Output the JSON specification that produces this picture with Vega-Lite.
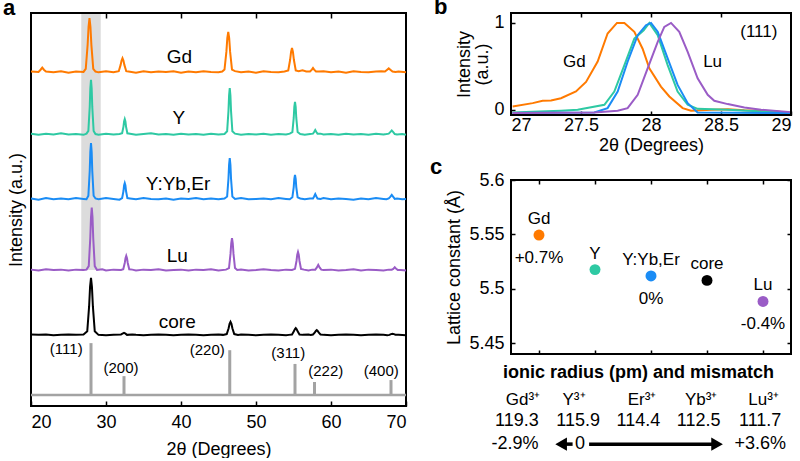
{
"$schema": "https://vega.github.io/schema/vega-lite/v6.json",
"background": "white",
"padding": {"left": 3, "top": -4, "right": 5, "bottom": 0},
"config": {
 "font": "Liberation Sans",
 "view": {"stroke": null},
 "axis": {"zindex": 1, "grid": false, "domain": false, "labelColor": "black", "titleColor": "black", "tickColor": "black", "labelFontSize": 18, "titleFontSize": 18, "titleFontWeight": "normal", "tickWidth": 1.5, "labelFont": "Liberation Sans", "titleFont": "Liberation Sans"},
 "title": {"fontSize": 22, "fontWeight": "bold", "anchor": "start", "frame": "bounds", "color": "black", "font": "Liberation Sans"},
 "text": {"font": "Liberation Sans", "fontSize": 18, "color": "black"}
},
"bounds": "flush",
"spacing": 105,
"hconcat": [
{
 "width": 375, "height": 393,
 "title": {"text": "a", "offset": -8, "dx": -4},
 "resolve": {"axis": {"x": "independent", "y": "independent"}},
 "layer": [
  {"data": {"values": [{"x": 26.7, "x2": 29.3, "y": 34.6, "y2": 100}]},
   "mark": {"type": "rect", "color": "#dcdcdc"},
   "encoding": {
    "x": {"field": "x", "type": "quantitative", "scale": {"domain": [20, 70]}, "axis": {"orient": "top", "labels": false, "title": null, "values": [30, 40, 50, 60], "tickSize": 5, "offset": -5}},
    "x2": {"field": "x2"},
    "y": {"field": "y", "type": "quantitative", "scale": {"domain": [0, 100]}, "axis": {"orient": "left", "labels": false, "ticks": false, "title": "Intensity (a.u.)", "titlePadding": 6}},
    "y2": {"field": "y2"}}},
  {"data": {"values": [{"x": 20, "x2": 70, "y": 0, "y2": 100}]},
   "mark": {"type": "rect", "fill": null, "fillOpacity": 0, "stroke": "black", "strokeWidth": 2},
   "encoding": {"x": {"field": "x", "type": "quantitative", "axis": null}, "x2": {"field": "x2"}, "y": {"field": "y", "type": "quantitative", "axis": null}, "y2": {"field": "y2"}}},
  {"data": {"values": [{"x": 20, "x2": 70, "y": 2.8}]},
   "mark": {"type": "rule", "color": "#a3a3a3", "strokeWidth": 2.5},
   "encoding": {"x": {"field": "x", "type": "quantitative", "axis": null}, "x2": {"field": "x2"}, "y": {"field": "y", "type": "quantitative", "axis": null}}},
  {"data": {"values": [{"x": 28.0, "y": 2.8, "y2": 16.0}, {"x": 32.4, "y": 2.8, "y2": 7.6}, {"x": 46.5, "y": 2.8, "y2": 14.2}, {"x": 55.2, "y": 2.8, "y2": 10.7}, {"x": 57.8, "y": 2.8, "y2": 6.1}, {"x": 68.0, "y": 2.8, "y2": 6.6}]},
   "mark": {"type": "rule", "color": "#a3a3a3", "strokeWidth": 3},
   "encoding": {"x": {"field": "x", "type": "quantitative", "axis": null}, "y": {"field": "y", "type": "quantitative", "axis": null}, "y2": {"field": "y2"}}},
  {"data": {"values": [
{"s":"Gd","x":20,"y":85.1},{"s":"Gd","x":21.0,"y":85.0},{"s":"Gd","x":21.25,"y":85.5},{"s":"Gd","x":21.5,"y":86.1},{"s":"Gd","x":21.75,"y":85.5},{"s":"Gd","x":22.0,"y":85.1},{"s":"Gd","x":23,"y":84.9},{"s":"Gd","x":24,"y":85.2},{"s":"Gd","x":25,"y":84.8},{"s":"Gd","x":26,"y":85.1},{"s":"Gd","x":27,"y":85.0},
{"s":"Gd","x":27.3,"y":85.8},{"s":"Gd","x":27.55,"y":91.9},{"s":"Gd","x":27.675,"y":96.5},{"s":"Gd","x":27.8,"y":98.7},{"s":"Gd","x":27.925,"y":96.5},{"s":"Gd","x":28.05,"y":91.9},{"s":"Gd","x":28.3,"y":85.8},
{"s":"Gd","x":28.6,"y":85.1},{"s":"Gd","x":29,"y":84.9},{"s":"Gd","x":30,"y":85.2},{"s":"Gd","x":31,"y":84.9},
{"s":"Gd","x":31.7,"y":85.2},{"s":"Gd","x":31.95,"y":86.8},{"s":"Gd","x":32.075,"y":87.9},{"s":"Gd","x":32.2,"y":88.5},{"s":"Gd","x":32.325,"y":87.9},{"s":"Gd","x":32.45,"y":86.8},{"s":"Gd","x":32.7,"y":85.2},
{"s":"Gd","x":33,"y":85.1},{"s":"Gd","x":34,"y":84.8},{"s":"Gd","x":35,"y":85.2},{"s":"Gd","x":36,"y":84.9},{"s":"Gd","x":37,"y":85.1},{"s":"Gd","x":38,"y":85.0},{"s":"Gd","x":39,"y":85.2},{"s":"Gd","x":40,"y":84.8},{"s":"Gd","x":41,"y":85.1},{"s":"Gd","x":42,"y":84.9},{"s":"Gd","x":43,"y":85.2},{"s":"Gd","x":44,"y":85.0},{"s":"Gd","x":45,"y":84.9},{"s":"Gd","x":45.5,"y":85.1},
{"s":"Gd","x":45.8,"y":85.6},{"s":"Gd","x":46.05,"y":90.1},{"s":"Gd","x":46.175,"y":93.6},{"s":"Gd","x":46.3,"y":95.2},{"s":"Gd","x":46.425,"y":93.6},{"s":"Gd","x":46.55,"y":90.1},{"s":"Gd","x":46.8,"y":85.6},
{"s":"Gd","x":47.2,"y":85.2},{"s":"Gd","x":48,"y":84.9},{"s":"Gd","x":49,"y":85.1},{"s":"Gd","x":50,"y":84.8},{"s":"Gd","x":51,"y":85.2},{"s":"Gd","x":52,"y":85.0},{"s":"Gd","x":53,"y":84.9},{"s":"Gd","x":53.8,"y":85.1},
{"s":"Gd","x":54.3,"y":85.4},{"s":"Gd","x":54.55,"y":88.1},{"s":"Gd","x":54.675,"y":90.1},{"s":"Gd","x":54.8,"y":91.1},{"s":"Gd","x":54.925,"y":90.1},{"s":"Gd","x":55.05,"y":88.1},{"s":"Gd","x":55.3,"y":85.4},
{"s":"Gd","x":55.7,"y":85.2},{"s":"Gd","x":56.2,"y":85.4},{"s":"Gd","x":56.7,"y":85.1},
{"s":"Gd","x":57.2,"y":85.1},{"s":"Gd","x":57.45,"y":85.6},{"s":"Gd","x":57.6,"y":86.0},{"s":"Gd","x":57.75,"y":85.6},{"s":"Gd","x":58.0,"y":85.1},
{"s":"Gd","x":58.4,"y":85.1},{"s":"Gd","x":59,"y":85.2},{"s":"Gd","x":60,"y":84.9},{"s":"Gd","x":61,"y":85.1},{"s":"Gd","x":62,"y":84.8},{"s":"Gd","x":63,"y":85.2},{"s":"Gd","x":64,"y":85.0},{"s":"Gd","x":65,"y":84.9},{"s":"Gd","x":66,"y":85.1},{"s":"Gd","x":66.7,"y":85.2},
{"s":"Gd","x":67.2,"y":85.1},{"s":"Gd","x":67.45,"y":85.5},{"s":"Gd","x":67.7,"y":85.9},{"s":"Gd","x":67.95,"y":85.5},{"s":"Gd","x":68.2,"y":85.1},
{"s":"Gd","x":68.6,"y":85.0},{"s":"Gd","x":69,"y":85.1},{"s":"Gd","x":70,"y":84.9},

{"s":"Y","x":20,"y":69.3},{"s":"Y","x":21,"y":69.0},{"s":"Y","x":22,"y":69.3},{"s":"Y","x":23,"y":69.1},{"s":"Y","x":24,"y":69.4},{"s":"Y","x":25,"y":69.1},{"s":"Y","x":26,"y":69.2},{"s":"Y","x":27,"y":69.0},{"s":"Y","x":27.4,"y":69.3},
{"s":"Y","x":27.65,"y":70.0},{"s":"Y","x":27.83,"y":76.1},{"s":"Y","x":27.91,"y":80.8},{"s":"Y","x":28.0,"y":83.0},{"s":"Y","x":28.09,"y":80.8},{"s":"Y","x":28.17,"y":76.1},{"s":"Y","x":28.35,"y":70.0},
{"s":"Y","x":28.6,"y":69.2},{"s":"Y","x":29,"y":69.0},{"s":"Y","x":30,"y":69.3},{"s":"Y","x":31,"y":69.1},{"s":"Y","x":31.8,"y":69.2},
{"s":"Y","x":32.15,"y":69.4},{"s":"Y","x":32.33,"y":71.1},{"s":"Y","x":32.41,"y":72.4},{"s":"Y","x":32.5,"y":73.0},{"s":"Y","x":32.59,"y":72.4},{"s":"Y","x":32.67,"y":71.1},{"s":"Y","x":32.85,"y":69.4},
{"s":"Y","x":33.2,"y":69.3},{"s":"Y","x":34,"y":69.0},{"s":"Y","x":35,"y":69.2},{"s":"Y","x":36,"y":69.4},{"s":"Y","x":37,"y":69.1},{"s":"Y","x":38,"y":69.2},{"s":"Y","x":39,"y":69.0},{"s":"Y","x":40,"y":69.3},{"s":"Y","x":41,"y":69.1},{"s":"Y","x":42,"y":69.2},{"s":"Y","x":43,"y":69.0},{"s":"Y","x":44,"y":69.3},{"s":"Y","x":45,"y":69.1},{"s":"Y","x":45.8,"y":69.2},
{"s":"Y","x":46.15,"y":69.9},{"s":"Y","x":46.33,"y":75.1},{"s":"Y","x":46.41,"y":79.0},{"s":"Y","x":46.5,"y":80.9},{"s":"Y","x":46.59,"y":79.0},{"s":"Y","x":46.67,"y":75.1},{"s":"Y","x":46.85,"y":69.9},
{"s":"Y","x":47.2,"y":69.3},{"s":"Y","x":48,"y":69.0},{"s":"Y","x":49,"y":69.2},{"s":"Y","x":50,"y":69.1},{"s":"Y","x":51,"y":69.3},{"s":"Y","x":52,"y":69.0},{"s":"Y","x":53,"y":69.2},{"s":"Y","x":54,"y":69.1},{"s":"Y","x":54.5,"y":69.3},
{"s":"Y","x":54.85,"y":69.7},{"s":"Y","x":55.03,"y":73.3},{"s":"Y","x":55.11,"y":76.1},{"s":"Y","x":55.2,"y":77.4},{"s":"Y","x":55.29,"y":76.1},{"s":"Y","x":55.37,"y":73.3},{"s":"Y","x":55.55,"y":69.7},
{"s":"Y","x":55.9,"y":69.2},{"s":"Y","x":56.5,"y":69.0},{"s":"Y","x":57.2,"y":69.2},
{"s":"Y","x":57.6,"y":69.3},{"s":"Y","x":57.75,"y":69.7},{"s":"Y","x":57.9,"y":70.2},{"s":"Y","x":58.05,"y":69.7},{"s":"Y","x":58.2,"y":69.3},
{"s":"Y","x":58.6,"y":69.3},{"s":"Y","x":59,"y":69.1},{"s":"Y","x":60,"y":69.2},{"s":"Y","x":61,"y":69.0},{"s":"Y","x":62,"y":69.3},{"s":"Y","x":63,"y":69.1},{"s":"Y","x":64,"y":69.2},{"s":"Y","x":65,"y":69.0},{"s":"Y","x":66,"y":69.3},{"s":"Y","x":67,"y":69.1},{"s":"Y","x":67.4,"y":69.2},
{"s":"Y","x":67.7,"y":69.3},{"s":"Y","x":67.9,"y":69.7},{"s":"Y","x":68.1,"y":70.1},{"s":"Y","x":68.3,"y":69.7},{"s":"Y","x":68.5,"y":69.2},
{"s":"Y","x":68.8,"y":69.1},{"s":"Y","x":69.5,"y":69.2},{"s":"Y","x":70,"y":69.0},

{"s":"Y:Yb,Er","x":20,"y":52.8},{"s":"Y:Yb,Er","x":21,"y":52.5},{"s":"Y:Yb,Er","x":22,"y":52.9},{"s":"Y:Yb,Er","x":23,"y":52.6},{"s":"Y:Yb,Er","x":24,"y":52.8},{"s":"Y:Yb,Er","x":25,"y":52.6},{"s":"Y:Yb,Er","x":26,"y":52.9},{"s":"Y:Yb,Er","x":27,"y":52.7},{"s":"Y:Yb,Er","x":27.4,"y":52.6},
{"s":"Y:Yb,Er","x":27.65,"y":53.5},{"s":"Y:Yb,Er","x":27.83,"y":59.8},{"s":"Y:Yb,Er","x":27.91,"y":64.6},{"s":"Y:Yb,Er","x":28.0,"y":66.9},{"s":"Y:Yb,Er","x":28.09,"y":64.6},{"s":"Y:Yb,Er","x":28.17,"y":59.8},{"s":"Y:Yb,Er","x":28.35,"y":53.5},
{"s":"Y:Yb,Er","x":28.6,"y":52.8},{"s":"Y:Yb,Er","x":29,"y":52.6},{"s":"Y:Yb,Er","x":30,"y":52.9},{"s":"Y:Yb,Er","x":31,"y":52.7},{"s":"Y:Yb,Er","x":31.8,"y":52.5},
{"s":"Y:Yb,Er","x":32.15,"y":52.9},{"s":"Y:Yb,Er","x":32.33,"y":54.7},{"s":"Y:Yb,Er","x":32.41,"y":56.1},{"s":"Y:Yb,Er","x":32.5,"y":56.7},{"s":"Y:Yb,Er","x":32.59,"y":56.1},{"s":"Y:Yb,Er","x":32.67,"y":54.7},{"s":"Y:Yb,Er","x":32.85,"y":52.9},
{"s":"Y:Yb,Er","x":33.2,"y":52.8},{"s":"Y:Yb,Er","x":34,"y":52.6},{"s":"Y:Yb,Er","x":35,"y":52.9},{"s":"Y:Yb,Er","x":36,"y":52.7},{"s":"Y:Yb,Er","x":37,"y":52.6},{"s":"Y:Yb,Er","x":38,"y":52.8},{"s":"Y:Yb,Er","x":39,"y":52.5},{"s":"Y:Yb,Er","x":40,"y":52.8},{"s":"Y:Yb,Er","x":41,"y":52.7},{"s":"Y:Yb,Er","x":42,"y":52.9},{"s":"Y:Yb,Er","x":43,"y":52.6},{"s":"Y:Yb,Er","x":44,"y":52.8},{"s":"Y:Yb,Er","x":45,"y":52.6},{"s":"Y:Yb,Er","x":45.8,"y":52.8},
{"s":"Y:Yb,Er","x":46.15,"y":53.3},{"s":"Y:Yb,Er","x":46.33,"y":57.9},{"s":"Y:Yb,Er","x":46.41,"y":61.4},{"s":"Y:Yb,Er","x":46.5,"y":63.1},{"s":"Y:Yb,Er","x":46.59,"y":61.4},{"s":"Y:Yb,Er","x":46.67,"y":57.9},{"s":"Y:Yb,Er","x":46.85,"y":53.3},
{"s":"Y:Yb,Er","x":47.2,"y":52.7},{"s":"Y:Yb,Er","x":48,"y":52.9},{"s":"Y:Yb,Er","x":49,"y":52.6},{"s":"Y:Yb,Er","x":50,"y":52.7},{"s":"Y:Yb,Er","x":51,"y":52.8},{"s":"Y:Yb,Er","x":52,"y":52.6},{"s":"Y:Yb,Er","x":53,"y":52.9},{"s":"Y:Yb,Er","x":54,"y":52.7},{"s":"Y:Yb,Er","x":54.5,"y":52.6},
{"s":"Y:Yb,Er","x":54.85,"y":53.1},{"s":"Y:Yb,Er","x":55.03,"y":55.7},{"s":"Y:Yb,Er","x":55.11,"y":57.8},{"s":"Y:Yb,Er","x":55.2,"y":58.8},{"s":"Y:Yb,Er","x":55.29,"y":57.8},{"s":"Y:Yb,Er","x":55.37,"y":55.7},{"s":"Y:Yb,Er","x":55.55,"y":53.1},
{"s":"Y:Yb,Er","x":55.9,"y":52.8},{"s":"Y:Yb,Er","x":56.5,"y":52.6},{"s":"Y:Yb,Er","x":57.2,"y":52.8},
{"s":"Y:Yb,Er","x":57.6,"y":52.8},{"s":"Y:Yb,Er","x":57.75,"y":53.3},{"s":"Y:Yb,Er","x":57.9,"y":53.9},{"s":"Y:Yb,Er","x":58.05,"y":53.3},{"s":"Y:Yb,Er","x":58.2,"y":52.8},
{"s":"Y:Yb,Er","x":58.6,"y":52.7},{"s":"Y:Yb,Er","x":59,"y":52.9},{"s":"Y:Yb,Er","x":60,"y":52.6},{"s":"Y:Yb,Er","x":61,"y":52.8},{"s":"Y:Yb,Er","x":62,"y":52.7},{"s":"Y:Yb,Er","x":63,"y":52.5},{"s":"Y:Yb,Er","x":64,"y":52.8},{"s":"Y:Yb,Er","x":65,"y":52.6},{"s":"Y:Yb,Er","x":66,"y":52.9},{"s":"Y:Yb,Er","x":67,"y":52.7},{"s":"Y:Yb,Er","x":67.4,"y":52.6},
{"s":"Y:Yb,Er","x":67.7,"y":52.8},{"s":"Y:Yb,Er","x":67.9,"y":53.2},{"s":"Y:Yb,Er","x":68.1,"y":53.7},{"s":"Y:Yb,Er","x":68.3,"y":53.2},{"s":"Y:Yb,Er","x":68.5,"y":52.7},
{"s":"Y:Yb,Er","x":68.8,"y":52.8},{"s":"Y:Yb,Er","x":69.5,"y":52.6},{"s":"Y:Yb,Er","x":70,"y":52.7},

{"s":"Lu","x":20,"y":34.7},{"s":"Lu","x":21,"y":34.5},{"s":"Lu","x":22,"y":34.8},{"s":"Lu","x":23,"y":34.6},{"s":"Lu","x":24,"y":34.7},{"s":"Lu","x":25,"y":34.5},{"s":"Lu","x":26,"y":34.7},{"s":"Lu","x":27,"y":34.6},{"s":"Lu","x":27.4,"y":34.7},
{"s":"Lu","x":27.7,"y":35.6},{"s":"Lu","x":27.9,"y":42.6},{"s":"Lu","x":28.0,"y":48.0},{"s":"Lu","x":28.1,"y":50.5},{"s":"Lu","x":28.2,"y":48.0},{"s":"Lu","x":28.3,"y":42.6},{"s":"Lu","x":28.5,"y":35.6},
{"s":"Lu","x":28.8,"y":34.6},{"s":"Lu","x":29.5,"y":34.8},{"s":"Lu","x":30,"y":34.5},{"s":"Lu","x":31,"y":34.7},{"s":"Lu","x":32,"y":34.6},
{"s":"Lu","x":32.3,"y":34.8},{"s":"Lu","x":32.5,"y":36.4},{"s":"Lu","x":32.6,"y":37.6},{"s":"Lu","x":32.7,"y":38.2},{"s":"Lu","x":32.8,"y":37.6},{"s":"Lu","x":32.9,"y":36.4},{"s":"Lu","x":33.1,"y":34.8},
{"s":"Lu","x":33.5,"y":34.7},{"s":"Lu","x":34,"y":34.5},{"s":"Lu","x":35,"y":34.7},{"s":"Lu","x":36,"y":34.6},{"s":"Lu","x":37,"y":34.8},{"s":"Lu","x":38,"y":34.5},{"s":"Lu","x":39,"y":34.6},{"s":"Lu","x":40,"y":34.7},{"s":"Lu","x":41,"y":34.5},{"s":"Lu","x":42,"y":34.7},{"s":"Lu","x":43,"y":34.6},{"s":"Lu","x":44,"y":34.8},{"s":"Lu","x":45,"y":34.5},{"s":"Lu","x":46,"y":34.7},
{"s":"Lu","x":46.4,"y":35.1},{"s":"Lu","x":46.6,"y":38.7},{"s":"Lu","x":46.7,"y":41.4},{"s":"Lu","x":46.8,"y":42.7},{"s":"Lu","x":46.9,"y":41.4},{"s":"Lu","x":47.0,"y":38.7},{"s":"Lu","x":47.2,"y":35.1},
{"s":"Lu","x":47.5,"y":34.6},{"s":"Lu","x":48,"y":34.7},{"s":"Lu","x":49,"y":34.5},{"s":"Lu","x":50,"y":34.6},{"s":"Lu","x":51,"y":34.8},{"s":"Lu","x":52,"y":34.6},{"s":"Lu","x":53,"y":34.5},{"s":"Lu","x":54,"y":34.7},{"s":"Lu","x":54.8,"y":34.6},
{"s":"Lu","x":55.2,"y":34.9},{"s":"Lu","x":55.4,"y":36.9},{"s":"Lu","x":55.5,"y":38.5},{"s":"Lu","x":55.6,"y":39.2},{"s":"Lu","x":55.7,"y":38.5},{"s":"Lu","x":55.8,"y":36.9},{"s":"Lu","x":56.0,"y":34.9},
{"s":"Lu","x":56.4,"y":34.7},{"s":"Lu","x":57,"y":34.5},{"s":"Lu","x":57.5,"y":34.7},
{"s":"Lu","x":57.9,"y":34.7},{"s":"Lu","x":58.1,"y":35.2},{"s":"Lu","x":58.3,"y":35.9},{"s":"Lu","x":58.5,"y":35.2},{"s":"Lu","x":58.7,"y":34.7},
{"s":"Lu","x":59,"y":34.6},{"s":"Lu","x":60,"y":34.7},{"s":"Lu","x":61,"y":34.5},{"s":"Lu","x":62,"y":34.6},{"s":"Lu","x":63,"y":34.8},{"s":"Lu","x":64,"y":34.5},{"s":"Lu","x":65,"y":34.7},{"s":"Lu","x":66,"y":34.6},{"s":"Lu","x":67,"y":34.5},{"s":"Lu","x":67.7,"y":34.7},
{"s":"Lu","x":68.1,"y":34.7},{"s":"Lu","x":68.3,"y":34.9},{"s":"Lu","x":68.5,"y":35.3},{"s":"Lu","x":68.7,"y":34.9},{"s":"Lu","x":68.9,"y":34.6},
{"s":"Lu","x":69.3,"y":34.6},{"s":"Lu","x":70,"y":34.5},

{"s":"core","x":20,"y":18.2},{"s":"core","x":21,"y":18.1},{"s":"core","x":22,"y":18.2},{"s":"core","x":23,"y":18.0},{"s":"core","x":24,"y":18.1},{"s":"core","x":25,"y":18.2},{"s":"core","x":26,"y":18.1},{"s":"core","x":27,"y":18.2},
{"s":"core","x":27.5,"y":19.0},{"s":"core","x":27.75,"y":25.4},{"s":"core","x":27.875,"y":30.3},{"s":"core","x":28.0,"y":32.6},{"s":"core","x":28.125,"y":30.3},{"s":"core","x":28.25,"y":25.4},{"s":"core","x":28.5,"y":19.0},
{"s":"core","x":29,"y":18.1},{"s":"core","x":30,"y":18.0},{"s":"core","x":31,"y":18.1},
{"s":"core","x":32.0,"y":18.2},{"s":"core","x":32.2,"y":18.4},{"s":"core","x":32.4,"y":18.6},{"s":"core","x":32.6,"y":18.4},{"s":"core","x":32.8,"y":18.1},
{"s":"core","x":33.5,"y":18.2},{"s":"core","x":34,"y":18.1},{"s":"core","x":35,"y":18.0},{"s":"core","x":36,"y":18.1},{"s":"core","x":37,"y":18.2},{"s":"core","x":38,"y":18.1},{"s":"core","x":39,"y":18.0},{"s":"core","x":40,"y":18.1},{"s":"core","x":41,"y":18.2},{"s":"core","x":42,"y":18.1},{"s":"core","x":43,"y":18.0},{"s":"core","x":44,"y":18.1},{"s":"core","x":45,"y":18.2},{"s":"core","x":45.6,"y":18.1},
{"s":"core","x":46.1,"y":18.3},{"s":"core","x":46.35,"y":19.8},{"s":"core","x":46.475,"y":20.9},{"s":"core","x":46.6,"y":21.4},{"s":"core","x":46.725,"y":20.9},{"s":"core","x":46.85,"y":19.8},{"s":"core","x":47.1,"y":18.3},
{"s":"core","x":47.6,"y":18.1},{"s":"core","x":48,"y":18.2},{"s":"core","x":49,"y":18.1},{"s":"core","x":50,"y":18.0},{"s":"core","x":51,"y":18.1},{"s":"core","x":52,"y":18.2},{"s":"core","x":53,"y":18.1},{"s":"core","x":54,"y":18.0},{"s":"core","x":54.4,"y":18.1},
{"s":"core","x":54.8,"y":18.2},{"s":"core","x":55.05,"y":19.0},{"s":"core","x":55.175,"y":19.5},{"s":"core","x":55.3,"y":19.8},{"s":"core","x":55.425,"y":19.5},{"s":"core","x":55.55,"y":19.0},{"s":"core","x":55.8,"y":18.2},
{"s":"core","x":56.2,"y":18.1},{"s":"core","x":57,"y":18.2},{"s":"core","x":57.3,"y":18.1},
{"s":"core","x":57.6,"y":18.2},{"s":"core","x":57.85,"y":18.7},{"s":"core","x":57.975,"y":19.1},{"s":"core","x":58.1,"y":19.3},{"s":"core","x":58.225,"y":19.1},{"s":"core","x":58.35,"y":18.7},{"s":"core","x":58.6,"y":18.2},
{"s":"core","x":59,"y":18.1},{"s":"core","x":60,"y":18.0},{"s":"core","x":61,"y":18.1},{"s":"core","x":62,"y":18.2},{"s":"core","x":63,"y":18.1},{"s":"core","x":64,"y":18.0},{"s":"core","x":65,"y":18.1},{"s":"core","x":66,"y":18.2},{"s":"core","x":67,"y":18.1},{"s":"core","x":67.5,"y":18.0},
{"s":"core","x":67.8,"y":18.1},{"s":"core","x":68.0,"y":18.3},{"s":"core","x":68.2,"y":18.4},{"s":"core","x":68.4,"y":18.3},{"s":"core","x":68.6,"y":18.1},
{"s":"core","x":69,"y":18.1},{"s":"core","x":70,"y":18.0}
   ]},
   "mark": {"type": "line", "strokeWidth": 2},
   "encoding": {
    "x": {"field": "x", "type": "quantitative", "axis": {"orient": "bottom", "values": [20, 30, 40, 50, 60, 70], "title": "2θ (Degrees)", "tickSize": 5, "offset": -5, "labelPadding": 7, "titlePadding": 9}},
    "y": {"field": "y", "type": "quantitative", "axis": null},
    "color": {"field": "s", "type": "nominal", "scale": {"domain": ["Gd", "Y", "Y:Yb,Er", "Lu", "core"], "range": ["#ff7a00", "#2ec9a3", "#1a8cf5", "#9a5cc6", "#000000"]}, "legend": null}}},
  {"data": {"values": [{"x": 39.8, "y": 88.8, "t": "Gd"}, {"x": 39.7, "y": 73.3, "t": "Y"}, {"x": 39.6, "y": 56.5, "t": "Y:Yb,Er"}, {"x": 39.5, "y": 38.2, "t": "Lu"}, {"x": 39.5, "y": 21.4, "t": "core"}]},
   "mark": {"type": "text", "fontSize": 19},
   "encoding": {"x": {"field": "x", "type": "quantitative", "axis": null}, "y": {"field": "y", "type": "quantitative", "axis": null}, "text": {"field": "t"}}},
  {"data": {"values": [{"x": 24.7, "y": 14.5, "t": "(111)"}, {"x": 32.0, "y": 9.7, "t": "(200)"}, {"x": 43.5, "y": 14.2, "t": "(220)"}, {"x": 54.3, "y": 13.5, "t": "(311)"}, {"x": 59.3, "y": 8.9, "t": "(222)"}, {"x": 66.7, "y": 8.9, "t": "(400)"}]},
   "mark": {"type": "text", "fontSize": 15},
   "encoding": {"x": {"field": "x", "type": "quantitative", "axis": null}, "y": {"field": "y", "type": "quantitative", "axis": null}, "text": {"field": "t"}}}
 ]
},
{
 "bounds": "flush",
 "spacing": 65,
 "vconcat": [
  {
   "width": 280, "height": 102,
   "title": {"text": "b", "offset": -7, "dx": -22},
   "resolve": {"axis": {"x": "independent", "y": "independent"}},
   "layer": [
    {"data": {"values": [
{"s":"Gd","x":27.012,"y":0.038},{"s":"Gd","x":27.155,"y":0.076},{"s":"Gd","x":27.226,"y":0.103},{"s":"Gd","x":27.286,"y":0.106},{"s":"Gd","x":27.357,"y":0.133},{"s":"Gd","x":27.464,"y":0.21},{"s":"Gd","x":27.536,"y":0.32},{"s":"Gd","x":27.619,"y":0.553},{"s":"Gd","x":27.69,"y":0.875},{"s":"Gd","x":27.757,"y":0.996},{"s":"Gd","x":27.81,"y":0.996},{"s":"Gd","x":27.881,"y":0.894},{"s":"Gd","x":27.94,"y":0.70},{"s":"Gd","x":27.988,"y":0.475},{"s":"Gd","x":28.071,"y":0.266},{"s":"Gd","x":28.131,"y":0.152},{"s":"Gd","x":28.226,"y":0.019},{"s":"Gd","x":28.286,"y":-0.011},{"s":"Gd","x":28.43,"y":0.0},{"s":"Gd","x":28.55,"y":0.005},{"s":"Gd","x":28.667,"y":-0.005},{"s":"Gd","x":28.8,"y":-0.011},{"s":"Gd","x":28.9,"y":-0.02},{"s":"Gd","x":29.0,"y":-0.038},
{"s":"Y","x":27.012,"y":-0.03},{"s":"Y","x":27.2,"y":-0.02},{"s":"Y","x":27.357,"y":-0.011},{"s":"Y","x":27.476,"y":0.0},{"s":"Y","x":27.667,"y":0.057},{"s":"Y","x":27.738,"y":0.209},{"s":"Y","x":27.81,"y":0.513},{"s":"Y","x":27.881,"y":0.817},{"s":"Y","x":27.948,"y":0.912},{"s":"Y","x":27.988,"y":0.996},{"s":"Y","x":28.048,"y":0.856},{"s":"Y","x":28.119,"y":0.513},{"s":"Y","x":28.19,"y":0.209},{"s":"Y","x":28.262,"y":0.057},{"s":"Y","x":28.333,"y":0.011},{"s":"Y","x":28.548,"y":0.0},{"s":"Y","x":28.8,"y":-0.02},{"s":"Y","x":29.0,"y":-0.038},
{"s":"Y:Yb,Er","x":27.012,"y":-0.038},{"s":"Y:Yb,Er","x":27.3,"y":-0.035},{"s":"Y:Yb,Er","x":27.595,"y":-0.03},{"s":"Y:Yb,Er","x":27.69,"y":0.019},{"s":"Y:Yb,Er","x":27.762,"y":0.209},{"s":"Y:Yb,Er","x":27.833,"y":0.551},{"s":"Y:Yb,Er","x":27.905,"y":0.856},{"s":"Y:Yb,Er","x":27.964,"y":0.97},{"s":"Y:Yb,Er","x":28.0,"y":0.996},{"s":"Y:Yb,Er","x":28.048,"y":0.894},{"s":"Y:Yb,Er","x":28.119,"y":0.589},{"s":"Y:Yb,Er","x":28.19,"y":0.285},{"s":"Y:Yb,Er","x":28.262,"y":0.076},{"s":"Y:Yb,Er","x":28.333,"y":-0.03},{"s":"Y:Yb,Er","x":28.6,"y":-0.035},{"s":"Y:Yb,Er","x":29.0,"y":-0.038},
{"s":"Lu","x":27.012,"y":-0.038},{"s":"Lu","x":27.3,"y":-0.035},{"s":"Lu","x":27.595,"y":-0.03},{"s":"Lu","x":27.762,"y":-0.011},{"s":"Lu","x":27.833,"y":0.019},{"s":"Lu","x":27.905,"y":0.171},{"s":"Lu","x":27.976,"y":0.475},{"s":"Lu","x":28.048,"y":0.779},{"s":"Lu","x":28.095,"y":0.951},{"s":"Lu","x":28.143,"y":0.996},{"s":"Lu","x":28.202,"y":0.894},{"s":"Lu","x":28.262,"y":0.665},{"s":"Lu","x":28.333,"y":0.361},{"s":"Lu","x":28.405,"y":0.171},{"s":"Lu","x":28.452,"y":0.103},{"s":"Lu","x":28.548,"y":0.065},{"s":"Lu","x":28.667,"y":0.027},{"s":"Lu","x":28.786,"y":0.0},{"s":"Lu","x":29.0,"y":-0.027}
     ]},
     "mark": {"type": "line", "strokeWidth": 2},
     "encoding": {
      "x": {"field": "x", "type": "quantitative", "scale": {"domain": [27, 29]}, "axis": {"orient": "bottom", "values": [27, 27.5, 28, 28.5, 29], "format": "~g", "title": "2θ (Degrees)", "tickSize": 4, "offset": -4, "labelPadding": 1, "titlePadding": 2}},
      "y": {"field": "y", "type": "quantitative", "scale": {"domain": [-0.06, 1.11], "nice": false, "zero": false}, "axis": {"orient": "left", "values": [0, 1], "format": "~g", "title": ["Intensity", "(a.u.)"], "tickSize": 4, "offset": -4, "labelPadding": 7, "titlePadding": 2, "titleLineHeight": 18}},
      "color": {"field": "s", "type": "nominal", "scale": {"domain": ["Gd", "Y", "Y:Yb,Er", "Lu", "core"], "range": ["#ff7a00", "#2ec9a3", "#1a8cf5", "#9a5cc6", "#000000"]}, "legend": null}}},
    {"data": {"values": [{"x": 27, "x2": 29, "y": -0.06, "y2": 1.11}]},
     "mark": {"type": "rect", "fill": null, "fillOpacity": 0, "stroke": "black", "strokeWidth": 2},
     "encoding": {"x": {"field": "x", "type": "quantitative", "scale": {"domain": [27, 29]}, "axis": null}, "x2": {"field": "x2"}, "y": {"field": "y", "type": "quantitative", "scale": {"domain": [-0.06, 1.11], "nice": false, "zero": false}, "axis": null}, "y2": {"field": "y2"}}},
    {"data": {"values": [{"x": 27.452, "y": 0.55, "t": "Gd"}, {"x": 28.44, "y": 0.55, "t": "Lu"}, {"x": 28.77, "y": 0.89, "t": "(111)"}]},
     "mark": {"type": "text", "fontSize": 17},
     "encoding": {
      "x": {"field": "x", "type": "quantitative", "scale": {"domain": [27, 29]}, "axis": {"orient": "top", "values": [27.5, 28, 28.5], "labels": false, "title": null, "tickSize": 4, "offset": -4}},
      "y": {"field": "y", "type": "quantitative", "scale": {"domain": [-0.06, 1.11], "nice": false, "zero": false}, "axis": null},
      "text": {"field": "t"}}}
   ]
  },
  {
   "bounds": "flush",
   "spacing": 8,
   "vconcat": [
    {
     "width": 280, "height": 174,
     "title": {"text": "c", "offset": -8, "dx": -16},
     "resolve": {"axis": {"x": "independent", "y": "independent"}},
     "layer": [
      {"data": {"values": [{"s": "Gd", "v": 5.5494}, {"s": "Y", "v": 5.5176}, {"s": "Y:Yb,Er", "v": 5.5118}, {"s": "core", "v": 5.5077}, {"s": "Lu", "v": 5.4883}]},
       "mark": {"type": "circle", "size": 120, "opacity": 1},
       "encoding": {
        "x": {"field": "s", "type": "nominal", "sort": ["Gd", "Y", "Y:Yb,Er", "core", "Lu"], "scale": {"type": "point", "padding": 0.5}, "axis": {"orient": "bottom", "labels": false, "title": null, "tickSize": 4, "offset": -4}},
        "y": {"field": "v", "type": "quantitative", "scale": {"domain": [5.44, 5.6], "nice": false, "zero": false}, "axis": {"orient": "left", "values": [5.45, 5.5, 5.55, 5.6], "format": "~g", "title": "Lattice constant (Å)", "tickSize": 4, "offset": -4, "labelPadding": 7, "titlePadding": 5}},
        "color": {"field": "s", "type": "nominal", "scale": {"domain": ["Gd", "Y", "Y:Yb,Er", "Lu", "core"], "range": ["#ff7a00", "#2ec9a3", "#1a8cf5", "#9a5cc6", "#000000"]}, "legend": null}}},
      {"data": {"values": [{"y": 5.44, "y2": 5.6}]},
       "mark": {"type": "rect", "fill": null, "fillOpacity": 0, "stroke": "black", "strokeWidth": 2},
       "encoding": {"y": {"field": "y", "type": "quantitative", "scale": {"domain": [5.44, 5.6], "nice": false, "zero": false}, "axis": {"orient": "right", "values": [5.45, 5.5, 5.55, 5.6], "labels": false, "title": null, "tickSize": 4, "offset": -4}}, "y2": {"field": "y2"}}},
      {"data": {"values": [{"s": "Gd", "v": 5.5494}, {"s": "Y", "v": 5.5176}, {"s": "Y:Yb,Er", "v": 5.5118}, {"s": "core", "v": 5.5077}, {"s": "Lu", "v": 5.4883}]},
       "mark": {"type": "text", "fontSize": 17, "dy": -16},
       "encoding": {
        "x": {"field": "s", "type": "nominal", "sort": ["Gd", "Y", "Y:Yb,Er", "core", "Lu"], "scale": {"type": "point", "padding": 0.5}, "axis": {"orient": "top", "labels": false, "title": null, "tickSize": 4, "offset": -4}},
        "y": {"field": "v", "type": "quantitative", "scale": {"domain": [5.44, 5.6], "nice": false, "zero": false}, "axis": null},
        "text": {"field": "s"}}},
      {"data": {"values": [{"s": "Gd", "v": 5.5494, "m": "+0.7%"}, {"s": "Y:Yb,Er", "v": 5.5118, "m": "0%"}, {"s": "Lu", "v": 5.4883, "m": "-0.4%"}]},
       "mark": {"type": "text", "fontSize": 17, "dy": 23},
       "encoding": {
        "x": {"field": "s", "type": "nominal", "sort": ["Gd", "Y", "Y:Yb,Er", "core", "Lu"], "scale": {"type": "point", "padding": 0.5}, "axis": null},
        "y": {"field": "v", "type": "quantitative", "scale": {"domain": [5.44, 5.6], "nice": false, "zero": false}, "axis": null},
        "text": {"field": "m"}}}
     ]
    },
    {
     "width": 280, "height": 90,
     "layer": [
      {"data": {"values": [{"x": 4.55, "y": 1, "t": "ionic radius (pm) and mismatch"}]},
       "mark": {"type": "text", "fontSize": 18, "fontWeight": "bold"},
       "encoding": {
        "x": {"field": "x", "type": "quantitative", "scale": {"domain": [0, 10]}, "axis": null},
        "y": {"field": "y", "type": "quantitative", "scale": {"domain": [0.5, 4.5], "reverse": true}, "axis": null},
        "text": {"field": "t"}}},
      {"data": {"values": [
        {"x": 0.43, "y": 2.2, "t": "Gd³⁺"}, {"x": 2.25, "y": 2.2, "t": "Y³⁺"}, {"x": 4.68, "y": 2.2, "t": "Er³⁺"}, {"x": 6.79, "y": 2.2, "t": "Yb³⁺"}, {"x": 9.02, "y": 2.2, "t": "Lu³⁺"}]},
       "mark": {"type": "text", "fontSize": 17},
       "encoding": {
        "x": {"field": "x", "type": "quantitative", "scale": {"domain": [0, 10]}, "axis": null},
        "y": {"field": "y", "type": "quantitative", "scale": {"domain": [0.5, 4.5], "reverse": true}, "axis": null},
        "text": {"field": "t"}}},
      {"data": {"values": [
        {"x": 0.21, "y": 3.1, "t": "119.3"}, {"x": 2.4, "y": 3.1, "t": "115.9"}, {"x": 4.55, "y": 3.1, "t": "114.4"}, {"x": 6.7, "y": 3.1, "t": "112.5"}, {"x": 8.9, "y": 3.1, "t": "111.7"},
        {"x": 0.14, "y": 4.15, "t": "-2.9%"}, {"x": 2.46, "y": 4.15, "t": "0"}, {"x": 8.9, "y": 4.15, "t": "+3.6%"}]},
       "mark": {"type": "text", "fontSize": 18},
       "encoding": {
        "x": {"field": "x", "type": "quantitative", "scale": {"domain": [0, 10]}, "axis": null},
        "y": {"field": "y", "type": "quantitative", "scale": {"domain": [0.5, 4.5], "reverse": true}, "axis": null},
        "text": {"field": "t"}}},
      {"data": {"values": [{"x": 1.79, "x2": 2.2, "y": 4.15}, {"x": 2.79, "x2": 7.36, "y": 4.15}]},
       "mark": {"type": "rule", "color": "black", "strokeWidth": 3.5},
       "encoding": {"x": {"field": "x", "type": "quantitative", "scale": {"domain": [0, 10]}, "axis": null}, "x2": {"field": "x2"}, "y": {"field": "y", "type": "quantitative", "scale": {"domain": [0.5, 4.5], "reverse": true}, "axis": null}}},
      {"data": {"values": [{"x": 1.79, "y": 4.15, "d": "left"}, {"x": 7.36, "y": 4.15, "d": "right"}]},
       "mark": {"type": "point", "filled": true, "color": "black", "size": 180, "opacity": 1},
       "encoding": {"x": {"field": "x", "type": "quantitative", "scale": {"domain": [0, 10]}, "axis": null}, "y": {"field": "y", "type": "quantitative", "scale": {"domain": [0.5, 4.5], "reverse": true}, "axis": null},
        "shape": {"field": "d", "type": "nominal", "scale": {"domain": ["left", "right"], "range": ["triangle-left", "triangle-right"]}, "legend": null}}}
     ]
    }
   ]
  }
 ]
}
]
}
